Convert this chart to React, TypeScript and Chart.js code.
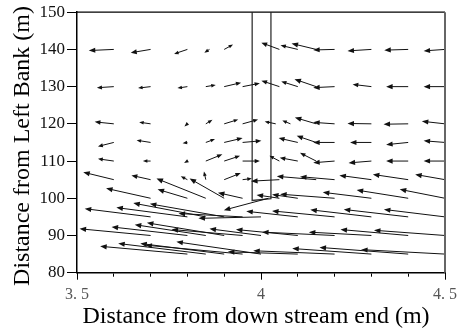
import React, { useEffect, useRef } from 'react';
import { Chart, registerables } from 'chart.js';
Chart.register(...registerables);

// Axis ticks
const xTickValues = [3.5, 4, 4.5];
const xTickLabels = ['3. 5', '4', '4. 5'];
const yMin = 80;
const yMax = 150;

// Pier outline (m)
const pierX = [3.976, 3.976, 4.027, 4.027];
const pierY = [150, 99.4, 99.9, 150];

// Velocity arrows per measurement row: [tail x (m), u (m), v (m)]
const rowLevels = [140, 130, 120, 115, 110, 105, 100, 95, 90, 85];
const row140 = [[3.6,-0.068,-0.3],[3.7,-0.054,-0.9],[3.8,-0.036,-1.2],[3.86,-0.014,-0.9],[3.9,0.024,1.3],[4.05,-0.049,1.8],[4.1,-0.047,1.1],[4.15,-0.067,1.6],[4.2,-0.058,-0.15],[4.3,-0.065,-0.4],[4.4,-0.065,-0.2],[4.5,-0.058,-0.4]];
const row130 = [[3.6,-0.046,-0.3],[3.7,-0.034,-0.4],[3.8,-0.027,-0.4],[3.85,0.027,0.45],[3.9,0.046,1.07],[3.95,0.047,0.9],[4.05,-0.049,1.6],[4.1,-0.045,1.4],[4.15,-0.059,2.0],[4.2,-0.058,-0.27],[4.3,-0.051,0.6],[4.4,-0.06,0],[4.5,-0.058,0]];
const row120 = [[3.6,-0.052,0.53],[3.7,-0.031,0.45],[3.8,-0.008,-0.7],[3.85,0.018,1.07],[3.9,0.038,1.15],[3.95,0.042,1.15],[4.04,-0.03,0.64],[4.08,-0.022,0.9],[4.15,-0.058,1.7],[4.2,-0.058,0.4],[4.3,-0.065,0.1],[4.4,-0.067,-0.1],[4.5,-0.063,0.7]];
const row115 = [[3.6,-0.043,-1.07],[3.7,-0.038,0.6],[3.8,-0.013,-0.2],[3.85,0.025,0.9],[3.9,0.05,1.17],[3.95,0.051,0.45],[4.1,-0.052,1.17],[4.15,-0.053,1.78],[4.2,-0.058,0],[4.3,-0.058,0],[4.4,-0.06,-0.6],[4.5,-0.058,0.45]];
const row110 = [[3.6,-0.043,0.6],[3.7,-0.021,0],[3.8,-0.009,-0.5],[3.85,0.045,1.8],[3.9,0.043,1.4],[3.95,0.047,0],[4.05,-0.027,1.4],[4.1,-0.049,0.9],[4.15,-0.044,2.2],[4.2,-0.058,-0.45],[4.3,-0.062,-0.5],[4.4,-0.06,0],[4.5,-0.058,0]];
const row105 = [[3.6,-0.083,2.0],[3.7,-0.052,1.15],[3.8,-0.018,0.9],[3.85,-0.005,2.2],[3.9,0.045,1.76],[3.95,0.025,0.3],[4.05,-0.077,-0.4],[4.15,-0.107,0.9],[4.2,-0.094,0.8],[4.3,-0.087,1.15],[4.4,-0.096,1.4],[4.5,-0.081,1.4]];
const row100 = [[3.7,-0.121,2.67],[3.8,-0.081,2.4],[3.85,-0.134,5.3],[3.9,-0.094,5.3],[3.95,-0.067,1.5],[4.02,-0.121,-3.2],[4.05,-0.062,0.9],[4.1,-0.07,1.0],[4.2,-0.148,1.1],[4.3,-0.132,1.6],[4.4,-0.14,2.2],[4.5,-0.123,2.4]];
const row95 = [[3.7,-0.179,2.2],[3.8,-0.193,2.5],[3.85,-0.197,3.7],[3.9,-0.202,3.5],[3.95,-0.174,0.9],[4.0,-0.17,-0.4],[4.1,-0.14,1.5],[4.2,-0.17,1.6],[4.3,-0.166,1.9],[4.4,-0.175,2.0],[4.5,-0.166,2.0]];
const row90 = [[3.7,-0.193,1.8],[3.8,-0.206,2.3],[3.85,-0.193,2.9],[3.9,-0.21,3.4],[3.95,-0.193,1.6],[4.0,-0.14,1.8],[4.1,-0.168,1.6],[4.2,-0.197,0.9],[4.3,-0.17,0.9],[4.4,-0.184,1.6],[4.5,-0.193,1.4]];
const row85 = [[3.8,-0.237,2.1],[3.85,-0.238,2.85],[3.9,-0.228,2.85],[3.95,-0.264,2.4],[4.0,-0.23,3.3],[4.1,-0.19,0.6],[4.2,-0.221,0.9],[4.3,-0.215,1.5],[4.4,-0.241,1.8],[4.5,-0.228,1.2]];
const rows = [row140, row130, row120, row115, row110, row105, row100, row95, row90, row85];

const xTitle = 'Distance from down stream end (m)';
const yTitle = 'Distance from Left Bank (m)';

const quiverPlugin = {
  id: 'quiver',
  afterDatasetsDraw(chart: any) {
    const { ctx, scales } = chart;
    const xs = scales.x, ys = scales.y;
    ctx.save();
    chart.data.datasets.forEach((ds: any) => {
      if (!ds.quiver) return;
      ds.data.forEach((p: any) => {
        const x0 = xs.getPixelForValue(p.x), y0 = ys.getPixelForValue(p.y);
        const x1 = xs.getPixelForValue(p.x + p.u), y1 = ys.getPixelForValue(p.y + p.v);
        const dx = x1 - x0, dy = y1 - y0;
        const len = Math.hypot(dx, dy);
        if (len < 0.5) return;
        const ux = dx / len, uy = dy / len;
        const hl = Math.min(6.5, Math.max(4.5, len * 0.3));
        const hw = hl * 0.4;
        ctx.strokeStyle = '#111';
        ctx.lineWidth = 1;
        ctx.beginPath();
        ctx.moveTo(x0, y0);
        ctx.lineTo(x1 - ux * hl * 0.8, y1 - uy * hl * 0.8);
        ctx.stroke();
        ctx.fillStyle = '#111';
        ctx.beginPath();
        ctx.moveTo(x1, y1);
        ctx.lineTo(x1 - ux * hl - uy * hw, y1 - uy * hl + ux * hw);
        ctx.lineTo(x1 - ux * hl + uy * hw, y1 - uy * hl - ux * hw);
        ctx.closePath();
        ctx.fill();
      });
    });
    ctx.restore();
  },
};

const framePlugin = {
  id: 'frame',
  afterDraw(chart: any) {
    const { ctx, chartArea: a, scales } = chart;
    ctx.save();
    // top border
    ctx.strokeStyle = '#000';
    ctx.lineWidth = 1.2;
    ctx.beginPath();
    ctx.moveTo(a.left, a.top);
    ctx.lineTo(a.right, a.top);
    ctx.stroke();
    // right border
    ctx.strokeStyle = '#666';
    ctx.lineWidth = 2;
    ctx.beginPath();
    ctx.moveTo(a.right, a.top);
    ctx.lineTo(a.right, a.bottom);
    ctx.stroke();
    // longer major x ticks
    ctx.strokeStyle = '#000';
    ctx.lineWidth = 1;
    xTickValues.forEach((v) => {
      const px = Math.round(scales.x.getPixelForValue(v)) + 0.5;
      ctx.beginPath();
      ctx.moveTo(px, a.bottom);
      ctx.lineTo(px, a.bottom + 7);
      ctx.stroke();
    });
    // axis titles
    ctx.fillStyle = '#000';
    ctx.font = '24px "Liberation Serif", "Times New Roman", serif';
    ctx.textAlign = 'center';
    ctx.textBaseline = 'alphabetic';
    ctx.fillText(xTitle, 256, 323);
    ctx.translate(29, 146);
    ctx.rotate(-Math.PI / 2);
    ctx.fillText(yTitle, 0, 0);
    ctx.restore();
  },
};

export default function App() {
  const ref = useRef<HTMLCanvasElement | null>(null);
  useEffect(() => {
    if (!ref.current) return;
    const datasets: any[] = [
      {
        label: 'pier',
        data: pierX.map((x, i) => ({ x, y: pierY[i] })),
        showLine: true,
        borderColor: '#333',
        borderWidth: 1.3,
        pointRadius: 0,
        fill: false,
      },
    ];
    rows.forEach((row, i) => {
      datasets.push({
        label: 'y' + rowLevels[i],
        quiver: true,
        data: row.map(([x, u, v]) => ({ x, y: rowLevels[i], u, v })),
        pointRadius: 0,
        showLine: false,
      });
    });
    const chart = new Chart(ref.current, {
      type: 'scatter',
      data: { datasets },
      options: {
        animation: false,
        responsive: false,
        devicePixelRatio: 1,
        layout: { padding: { top: 10, right: 16, left: 0, bottom: 0 } },
        plugins: { legend: { display: false }, tooltip: { enabled: false } },
        scales: {
          x: {
            type: 'linear',
            min: 3.5,
            max: 4.5,
            ticks: {
              stepSize: 0.1,
              autoSkip: false,
              maxRotation: 0,
              padding: 8,
              color: '#555',
              font: { family: '"Liberation Serif", serif', size: 16 },
              callback: (v: any) => {
                const idx = xTickValues.findIndex((t) => Math.abs(t - Number(v)) < 1e-6);
                return idx >= 0 ? xTickLabels[idx] : '';
              },
            },
            grid: { drawOnChartArea: false, drawTicks: true, tickLength: 4, tickColor: '#000' },
            border: { color: '#000', width: 1.5 },
            afterFit: (s: any) => { s.height = 58.3; },
          },
          y: {
            type: 'linear',
            min: yMin,
            max: yMax,
            ticks: {
              stepSize: 10,
              padding: 2,
              color: '#111',
              font: { family: '"Liberation Serif", serif', size: 17 },
            },
            grid: { drawOnChartArea: false, drawTicks: true, tickLength: 10, tickColor: '#000' },
            border: { color: '#000', width: 1.5 },
            afterFit: (s: any) => { s.width = 77; },
          },
        },
      },
      plugins: [quiverPlugin, framePlugin],
    });
    return () => chart.destroy();
  }, []);
  return (
    <div style={{ position: 'fixed', left: 0, top: 0, width: 465, height: 331, background: '#fff' }}>
      <canvas ref={ref} width={465} height={331} />
    </div>
  );
}
